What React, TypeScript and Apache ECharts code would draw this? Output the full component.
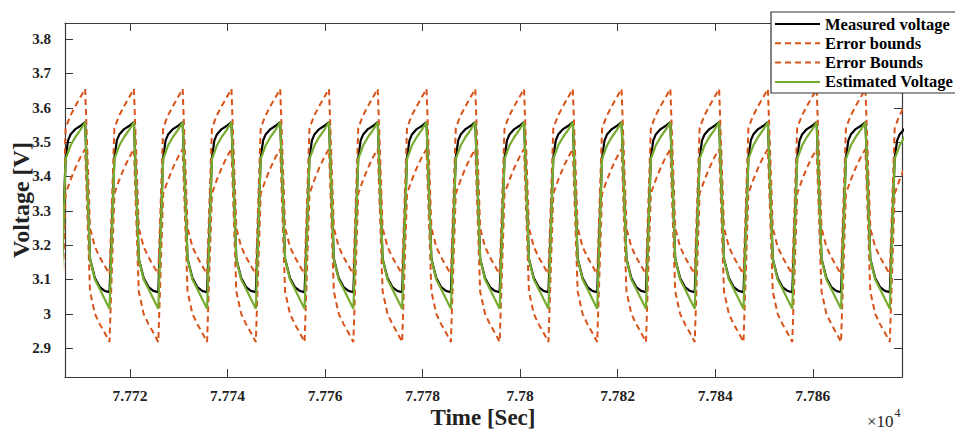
import React, { useEffect, useRef } from "react";
import * as echarts from "echarts";

// ---- data ----
const xTickValues = [77720, 77740, 77760, 77780, 77800, 77820, 77840, 77860];
const xTickLabels = ["7.772", "7.774", "7.776", "7.778", "7.78", "7.782", "7.784", "7.786"];
const yTickValues = [2.9, 3.0, 3.1, 3.2, 3.3, 3.4, 3.5, 3.6, 3.7, 3.8];
const yTickLabels = ["2.9", "3", "3.1", "3.2", "3.3", "3.4", "3.5", "3.6", "3.7", "3.8"];

// times (s) of each charge/discharge peak
const cyclePeakTimes = [
  77700.8, 77710.8, 77720.8, 77730.8, 77740.8, 77750.8, 77760.8, 77770.8, 77780.8, 77790.8,
  77800.8, 77810.8, 77820.8, 77830.8, 77840.8, 77850.8, 77860.8, 77870.8, 77880.8,
];
// sample offsets (s) after each peak
const cycleOffsets = [0, 1, 2, 3, 4, 5, 6, 6.5, 7, 8, 9];
const measuredCycle = [3.558, 3.16, 3.104, 3.078, 3.067, 3.063, 3.455, 3.505, 3.522, 3.538, 3.547];
const estimatedCycle = [3.558, 3.16, 3.1, 3.072, 3.043, 3.015, 3.451, 3.47, 3.49, 3.515, 3.535];
const upperBoundCycle = [3.655, 3.25, 3.195, 3.165, 3.14, 3.115, 3.54, 3.56, 3.578, 3.605, 3.63];
const lowerBoundCycle = [3.48, 3.065, 3.0, 2.97, 2.945, 2.918, 3.35, 3.37, 3.39, 3.425, 3.455];

const legendNames = ["Measured voltage", "Error bounds", "Error Bounds", "Estimated Voltage"];

const X_MIN = 77706.67;
const X_MAX = 77878.3;
const Y_MIN = 2.816;
const Y_MAX = 3.847;

const FONT = "'Liberation Serif', 'Times New Roman', serif";
const C_BLACK = "#000000";
const C_ORANGE = "#D95319";
const C_GREEN = "#77AC30";
const C_AXIS = "#3a3a3a";

function buildSeries(values: number[]) {
  const out: [number, number][] = [];
  for (const p of cyclePeakTimes) {
    cycleOffsets.forEach((o, i) => {
      out.push([p + o, values[i]]);
    });
  }
  return out;
}

function labelFor(values: number[], labels: string[], v: number) {
  for (let i = 0; i < values.length; i++) {
    if (Math.abs(values[i] - v) < 1e-6) return labels[i];
  }
  return "";
}

export default function App() {
  const ref = useRef<HTMLDivElement>(null);

  useEffect(() => {
    if (!ref.current) return;
    const chart = echarts.init(ref.current, undefined, { renderer: "svg" });

    const left = 65;
    const top = 23;
    const width = 837;
    const height = 354;

    const commonLine = { showSymbol: false, symbol: "none", clip: true, silent: true, animation: false };

    const legendRowY = [24, 43.3, 62.6, 81.9];
    const legendStyles = [
      { stroke: C_BLACK, lineDash: null as any },
      { stroke: C_ORANGE, lineDash: [6, 4] },
      { stroke: C_ORANGE, lineDash: [6, 4] },
      { stroke: C_GREEN, lineDash: null as any },
    ];

    const legendGraphics: any[] = [
      {
        type: "rect",
        shape: { x: 771, y: 12, width: 200, height: 81 },
        style: { fill: "#ffffff", stroke: "#333333", lineWidth: 1.2 },
        z: 100,
      },
    ];
    legendNames.forEach((name, i) => {
      legendGraphics.push({
        type: "line",
        shape: { x1: 775, y1: legendRowY[i], x2: 820, y2: legendRowY[i] },
        style: { stroke: legendStyles[i].stroke, lineWidth: 2, lineDash: legendStyles[i].lineDash },
        z: 101,
      });
      legendGraphics.push({
        type: "text",
        x: 825,
        y: legendRowY[i],
        style: {
          text: name,
          font: `bold 16.5px ${FONT}`,
          fill: "#000",
          verticalAlign: "middle",
          align: "left",
        },
        z: 101,
      });
    });

    const option: any = {
      animation: false,
      backgroundColor: "#ffffff",
      grid: { left, top, width, height, show: false },
      xAxis: [
        {
          type: "value",
          min: X_MIN,
          max: X_MAX,
          position: "bottom",
          axisLine: { show: true, onZero: false, lineStyle: { color: C_AXIS, width: 1.2 } },
          axisTick: { show: true, inside: true, length: 8, customValues: xTickValues, lineStyle: { color: C_AXIS } },
          axisLabel: {
            show: true,
            customValues: xTickValues,
            margin: 10,
            color: "#222",
            fontFamily: FONT,
            fontWeight: "bold",
            fontSize: 15.5,
            formatter: (v: number) => labelFor(xTickValues, xTickLabels, v),
          },
          splitLine: { show: false },
        },
        {
          type: "value",
          min: X_MIN,
          max: X_MAX,
          position: "top",
          axisLine: { show: true, onZero: false, lineStyle: { color: C_AXIS, width: 1.2 } },
          axisTick: { show: true, inside: true, length: 8, customValues: xTickValues, lineStyle: { color: C_AXIS } },
          axisLabel: { show: false },
          splitLine: { show: false },
        },
      ],
      yAxis: [
        {
          type: "value",
          min: Y_MIN,
          max: Y_MAX,
          position: "left",
          axisLine: { show: true, onZero: false, lineStyle: { color: C_AXIS, width: 1.2 } },
          axisTick: { show: true, inside: true, length: 8, customValues: yTickValues, lineStyle: { color: C_AXIS } },
          axisLabel: {
            show: true,
            customValues: yTickValues,
            margin: 14,
            color: "#222",
            fontFamily: FONT,
            fontWeight: "bold",
            fontSize: 15,
            formatter: (v: number) => labelFor(yTickValues, yTickLabels, v),
          },
          splitLine: { show: false },
        },
        {
          type: "value",
          min: Y_MIN,
          max: Y_MAX,
          position: "right",
          axisLine: { show: true, onZero: false, lineStyle: { color: C_AXIS, width: 1.2 } },
          axisTick: { show: true, inside: true, length: 8, customValues: yTickValues, lineStyle: { color: C_AXIS } },
          axisLabel: { show: false },
          splitLine: { show: false },
        },
      ],
      series: [
        {
          ...commonLine,
          name: legendNames[0],
          type: "line",
          xAxisIndex: 0,
          yAxisIndex: 0,
          data: buildSeries(measuredCycle),
          lineStyle: { color: C_BLACK, width: 2.2 },
          z: 2,
        },
        {
          ...commonLine,
          name: legendNames[1],
          type: "line",
          xAxisIndex: 0,
          yAxisIndex: 0,
          data: buildSeries(upperBoundCycle),
          lineStyle: { color: C_ORANGE, width: 2, type: [6, 4] },
          z: 3,
        },
        {
          ...commonLine,
          name: legendNames[2],
          type: "line",
          xAxisIndex: 0,
          yAxisIndex: 0,
          data: buildSeries(lowerBoundCycle),
          lineStyle: { color: C_ORANGE, width: 2, type: [6, 4] },
          z: 4,
        },
        {
          ...commonLine,
          name: legendNames[3],
          type: "line",
          xAxisIndex: 0,
          yAxisIndex: 0,
          data: buildSeries(estimatedCycle),
          lineStyle: { color: C_GREEN, width: 2.2 },
          z: 5,
        },
      ],
      graphic: [
        {
          type: "text",
          x: 20.5,
          y: 200,
          rotation: Math.PI / 2,
          style: {
            text: "Voltage [V]",
            font: `bold 24px ${FONT}`,
            fill: "#222",
            align: "center",
            verticalAlign: "middle",
          },
        },
        {
          type: "text",
          x: 483,
          y: 417,
          style: {
            text: "Time [Sec]",
            font: `bold 23px ${FONT}`,
            fill: "#222",
            align: "center",
            verticalAlign: "middle",
          },
        },
        {
          type: "text",
          x: 867,
          y: 418,
          style: {
            text: "{a|×10}{b|4}",
            rich: {
              a: { font: `17px ${FONT}`, fill: "#222", verticalAlign: "bottom" },
              b: { font: `12px ${FONT}`, fill: "#222", verticalAlign: "top", padding: [0, 0, 11, 1] },
            },
            align: "left",
            verticalAlign: "middle",
          },
        },
        ...legendGraphics,
      ],
    };

    chart.setOption(option);
    return () => chart.dispose();
  }, []);

  return (
    <div
      ref={ref}
      style={{ position: "fixed", left: 0, top: 0, width: 955, height: 430, background: "#fff" }}
    />
  );
}
